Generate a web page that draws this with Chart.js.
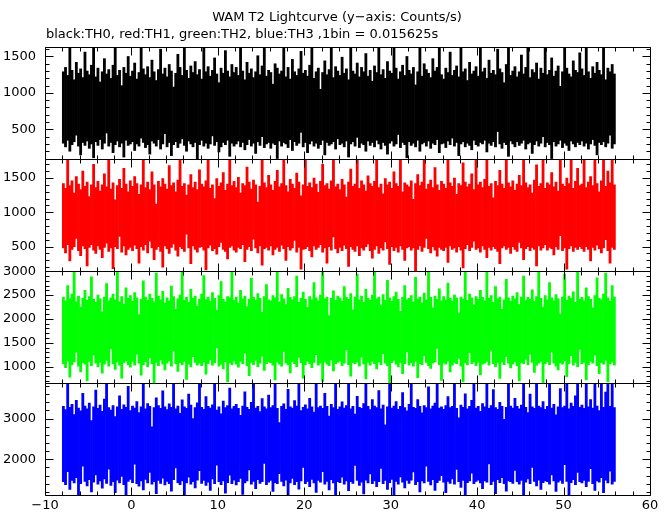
<!DOCTYPE html>
<html>
<head>
<meta charset="utf-8">
<script src="https://cdn.jsdelivr.net/npm/chart.js@4"></script>
<style>
  body { margin: 0; background: #fff; }
  canvas { display: block; }
</style>
</head>
<body>
<canvas id="lc" width="672" height="515"></canvas>
<script>
// min / max count rate per 0.25 s bin (bins start at t = -8 s)
let title = "WAM T2 Lightcurve (y\u2212axis: Counts/s)";
let subtitle = "black:TH0, red:TH1, green:TH2, blue:TH3 ,1bin = 0.015625s";
let tStart = -8;
let binWidth = 0.25;
let bands = ["TH0", "TH1", "TH2", "TH3"];
let colors = ["#000000", "#ff0000", "#00ff00", "#0000ff"];

let th0Hi = [
  1290, 1350, 1240, 1630, 1310, 1180, 1420, 1270, 1330, 1210, 1560, 1300, 1250, 1380, 1630, 1220,
  1340, 1150, 1290, 1470, 1260, 1320, 1200, 1380, 1630, 1240, 1310, 1100, 1350, 1270, 1500, 1230,
  1300, 1410, 1190, 1280, 1630, 1330, 1250, 1360, 1210, 1450, 1290, 1170, 1320, 1600, 1260, 1340,
  1220, 1390, 1300, 1080, 1270, 1530, 1350, 1240, 1630, 1310, 1200, 1370, 1280, 1430, 1250, 1320,
  1190, 1630, 1290, 1360, 1230, 1310, 1480, 1260, 1140, 1340, 1270, 1580, 1300, 1220, 1390, 1280,
  1350, 1240, 1630, 1300, 1180, 1420, 1270, 1330, 1210, 1290, 1510, 1250, 1370, 1630, 1230, 1310,
  1280, 1120, 1400, 1340, 1260, 1300, 1630, 1220, 1350, 1190, 1460, 1290, 1240, 1330, 1570, 1270,
  1310, 1230, 1380, 1630, 1200, 1290, 1340, 1050, 1280, 1440, 1250, 1320, 1630, 1210, 1360, 1300,
  1240, 1490, 1270, 1330, 1180, 1630, 1300, 1260, 1410, 1220, 1350, 1290, 1540, 1230, 1310, 1160,
  1370, 1280, 1630, 1250, 1320, 1200, 1430, 1300, 1270, 1630, 1340, 1190, 1290, 1380, 1240, 1500,
  1310, 1260, 1350, 1110, 1290, 1630, 1230, 1400, 1320, 1270, 1210, 1470, 1300, 1350, 1630, 1250,
  1190, 1340, 1280, 1560, 1240, 1310, 1370, 1220, 1630, 1290, 1330, 1170, 1420, 1260, 1300, 1360,
  1230, 1630, 1290, 1340, 1200, 1450, 1270, 1310, 1250, 1600, 1330, 1280, 1140, 1390, 1630, 1240,
  1300, 1360, 1220, 1290, 1520, 1260, 1350, 1630, 1210, 1320, 1280, 1410, 1190, 1340, 1270, 1630,
  1250, 1310, 1480, 1230, 1300, 1370, 1090, 1290, 1630, 1340, 1260, 1220, 1440, 1310, 1280, 1550,
  1330, 1240, 1630, 1290, 1200, 1360, 1270, 1420, 1310, 1250, 1630, 1180, 1340, 1290, 1390, 1260
];
let th0Lo = [
  310, 260, 350, 200, 290, 330, 420, 270, 150, 320, 280, 340, 240, 300, 110, 330,
  280, 360, 230, 310, 450, 270, 320, 180, 290, 340, 260, 310, 120, 350, 280, 300,
  330, 210, 300, 270, 380, 320, 250, 290, 160, 340, 310, 270, 360, 230, 300, 440,
  260, 320, 140, 290, 330, 250, 310, 370, 280, 200, 340, 300, 260, 320, 92, 290,
  350, 270, 310, 240, 300, 410, 280, 330, 190, 260, 320, 290, 350, 130, 310, 270,
  300, 340, 260, 320, 220, 290, 360, 270, 310, 170, 330, 280, 400, 250, 300, 320,
  240, 310, 290, 100, 340, 270, 320, 300, 250, 360, 210, 330, 280, 310, 460, 260,
  320, 180, 300, 340, 270, 310, 240, 290, 350, 150, 320, 280, 300, 330, 230, 370,
  290, 310, 260, 340, 120, 300, 330, 270, 390, 250, 310, 290, 200, 340, 280, 320,
  260, 350, 300, 230, 320, 280, 160, 310, 340, 270, 300, 430, 250, 320, 290, 110,
  330, 280, 310, 260, 350, 200, 300, 320, 270, 340, 240, 310, 290, 360, 180, 300,
  310, 250, 340, 290, 380, 270, 320, 140, 300, 330, 260, 310, 280, 220, 350, 290,
  270, 320, 300, 350, 190, 310, 280, 330, 260, 470, 300, 240, 320, 290, 130, 340,
  300, 260, 330, 280, 310, 350, 230, 300, 320, 170, 290, 340, 270, 310, 400, 260,
  320, 290, 100, 330, 270, 300, 350, 250, 310, 280, 210, 340, 300, 260, 320, 290,
  340, 270, 310, 230, 300, 360, 280, 150, 320, 290, 330, 260, 310, 420, 240, 300
];

let th1Hi = [
  1420, 1350, 1775, 1390, 1460, 1280, 1520, 1410, 1330, 1600, 1380, 1440, 1230, 1400, 1700, 1360,
  1450, 1310, 1400, 1560, 1370, 1775, 1340, 1430, 1180, 1390, 1480, 1350, 1640, 1410, 1300, 1460,
  1380, 1520, 1420, 1260, 1400, 1775, 1360, 1440, 1330, 1590, 1400, 1120, 1450, 1370, 1490, 1410,
  1340, 1680, 1390, 1430, 1300, 1470, 1775, 1380, 1420, 1250, 1400, 1550, 1360, 1440, 1330, 1620,
  1410, 1370, 1460, 1775, 1350, 1400, 1200, 1490, 1380, 1430, 1580, 1320, 1410, 1775, 1390, 1450,
  1360, 1510, 1280, 1420, 1390, 1660, 1440, 1340, 1470, 1400, 1150, 1380, 1775, 1430, 1360, 1540,
  1400, 1320, 1450, 1610, 1370, 1420, 1775, 1390, 1300, 1480, 1410, 1350, 1570, 1440, 1240, 1400,
  1775, 1380, 1430, 1360, 1500, 1410, 1290, 1450, 1700, 1390, 1420, 1340, 1460, 1775, 1370, 1410,
  1330, 1480, 1400, 1220, 1440, 1630, 1380, 1410, 1775, 1350, 1460, 1400, 1310, 1530, 1420, 1380,
  1450, 1775, 1360, 1410, 1270, 1490, 1400, 1440, 1350, 1590, 1420, 1380, 1775, 1300, 1430, 1400,
  1370, 1460, 1190, 1420, 1550, 1390, 1440, 1775, 1340, 1410, 1470, 1360, 1650, 1400, 1320, 1450,
  1410, 1350, 1775, 1430, 1380, 1500, 1260, 1420, 1390, 1720, 1440, 1370, 1410, 1560, 1330, 1775,
  1400, 1440, 1360, 1480, 1775, 1380, 1420, 1210, 1450, 1390, 1610, 1410, 1350, 1775, 1430, 1370,
  1460, 1320, 1410, 1540, 1390, 1775, 1430, 1360, 1400, 1280, 1470, 1690, 1380, 1420, 1775, 1350,
  1430, 1400, 1580, 1370, 1440, 1310, 1775, 1410, 1380, 1500, 1420, 1775, 1350, 1450, 1640, 1390,
  1410, 1775, 1360, 1440, 1520, 1390, 1775, 1420, 1300, 1460, 1775, 1380, 1600, 1430, 1775, 1400
];
let th1Lo = [
  480, 410, 530, 290, 460, 500, 620, 440, 370, 510, 470, 220, 490, 530, 450, 400,
  510, 460, 340, 490, 550, 430, 480, 180, 500, 470, 650, 420, 510, 380, 460, 490,
  440, 520, 470, 260, 500, 450, 530, 410, 580, 480, 310, 460, 500, 430, 200, 510,
  470, 400, 490, 540, 450, 360, 500, 470, 430, 680, 480, 250, 510, 460, 420, 490,
  500, 450, 160, 480, 520, 440, 470, 390, 500, 560, 460, 430, 320, 490, 510, 450,
  420, 490, 470, 530, 280, 460, 500, 440, 610, 480, 410, 510, 230, 470, 490, 450,
  510, 380, 460, 490, 430, 520, 470, 300, 500, 450, 480, 590, 420, 490, 170, 460,
  470, 500, 440, 350, 510, 460, 490, 530, 420, 480, 260, 500, 450, 640, 470, 410,
  490, 440, 520, 470, 210, 500, 460, 430, 510, 370, 480, 450, 500, 540, 440, 330,
  460, 510, 400, 480, 450, 570, 470, 240, 500, 440, 490, 420, 510, 460, 300, 480,
  500, 450, 480, 142, 460, 510, 430, 490, 620, 470, 410, 500, 450, 360, 490, 460,
  440, 490, 270, 510, 460, 480, 420, 500, 450, 190, 470, 530, 440, 490, 580, 460,
  480, 420, 510, 460, 340, 490, 450, 500, 470, 430, 250, 480, 510, 460, 490, 400,
  500, 460, 430, 560, 480, 310, 470, 500, 440, 490, 460, 220, 510, 450, 480, 530,
  450, 490, 470, 380, 500, 460, 660, 440, 480, 170, 470, 510, 430, 490, 460, 500,
  470, 430, 500, 460, 290, 490, 450, 520, 470, 410, 480, 600, 440, 260, 490, 460
];

let th2Hi = [
  2450, 2380, 2700, 2420, 2520, 3000, 2360, 2480, 2250, 2430, 2600, 2390, 2470, 2880, 2410, 2350,
  2500, 2420, 2150, 2460, 2740, 2380, 2440, 2520, 2400, 3000, 2360, 2470, 2310, 2650, 2430, 2490,
  2370, 2550, 2440, 2090, 2410, 2800, 2460, 2390, 2520, 2430, 2360, 2960, 2480, 2400, 2580, 2330,
  2440, 2380, 2690, 2470, 2200, 2420, 2500, 3000, 2390, 2450, 2350, 2620, 2430, 2480, 2270, 2410,
  2520, 2910, 2400, 2460, 2370, 2550, 2430, 2180, 2490, 2780, 2410, 2360, 2470, 2440, 3000, 2390,
  2450, 2330, 2600, 2420, 2480, 2260, 2410, 2850, 2460, 2390, 2530, 2430, 2140, 2470, 2720, 2400,
  2380, 2490, 2440, 3000, 2360, 2510, 2420, 2300, 2640, 2450, 2400, 2470, 2900, 2350, 2430, 2560,
  2410, 2240, 2470, 2400, 2760, 2440, 2380, 2500, 3000, 2420, 2460, 2070, 2430, 2590, 2390, 2480,
  2440, 2370, 2680, 2450, 2410, 2530, 2190, 2460, 2940, 2400, 2480, 2350, 2620, 2430, 2390, 2500,
  3000, 2420, 2460, 2280, 2510, 2390, 2810, 2440, 2370, 2470, 2560, 2410, 2160, 2450, 2700, 2400,
  2430, 2490, 2360, 2870, 2420, 2460, 2330, 2540, 2400, 3000, 2450, 2230, 2480, 2410, 2630, 2380,
  2470, 2400, 2750, 2430, 2370, 2500, 2440, 2120, 2460, 2410, 2980, 2390, 2520, 2440, 2290, 2470,
  2410, 2600, 2450, 2380, 3000, 2430, 2490, 2350, 2680, 2420, 2460, 2200, 2400, 2830, 2440, 2370,
  2480, 2420, 2550, 2300, 2460, 2900, 2390, 2450, 2410, 2610, 2370, 2470, 3000, 2430, 2250, 2490,
  2400, 2760, 2440, 2380, 2510, 2420, 2100, 2460, 2940, 2390, 2480, 2430, 2570, 2350, 3000, 2410,
  2450, 2380, 2650, 2470, 2410, 2230, 2490, 2860, 2430, 2400, 2520, 2960, 2440, 2370, 2700, 2460
];
let th2Lo = [
  1060, 980, 1120, 780, 1040, 1100, 1300, 1010, 890, 1080, 1050, 700, 1110, 1020, 1240, 1070,
  1000, 1090, 860, 1050, 1130, 1010, 1370, 1060, 940, 1100, 1030, 760, 1080, 1120, 1040, 990,
  1110, 1030, 1260, 1070, 820, 1040, 1100, 1000, 1180, 1060, 650, 1090, 1020, 1140, 1050, 930,
  1070, 1120, 1010, 1330, 1060, 900, 1080, 1040, 1110, 730, 1050, 1000, 1210, 1090, 1030, 1070,
  1020, 1100, 840, 1060, 1140, 1030, 1080, 1390, 1010, 1050, 950, 1100, 680, 1070, 1040, 1120,
  1050, 990, 1110, 1060, 1280, 1020, 810, 1090, 1040, 1130, 1000, 1070, 1220, 920, 1060, 1100,
  1080, 1030, 720, 1100, 1050, 1010, 1320, 1070, 1040, 870, 1110, 1060, 1000, 1190, 1080, 760,
  1040, 1110, 1060, 980, 1090, 1250, 1030, 1070, 690, 1100, 1050, 1020, 1140, 910, 1060, 1090,
  1120, 1020, 1070, 1350, 1040, 800, 1080, 1060, 1100, 1010, 1200, 1050, 740, 1090, 1030, 1110,
  1060, 950, 1100, 1040, 1270, 1070, 1020, 660, 1080, 1130, 1050, 1000, 1090, 850, 1060, 1310,
  1030, 1080, 1010, 1110, 770, 1060, 1040, 1230, 1090, 1020, 960, 1070, 1100, 1380, 1040, 710,
  1070, 1050, 1120, 890, 1030, 1090, 1060, 1170, 1010, 680, 1080, 1040, 1290, 1060, 1100, 1020,
  1090, 830, 1050, 1070, 1110, 1030, 1340, 1060, 1000, 1080, 750, 1100, 1040, 1210, 1070, 970,
  1050, 1100, 1020, 700, 1080, 1060, 1150, 1040, 1260, 1090, 880, 1030, 1070, 1110, 650, 1060,
  1100, 1040, 1300, 1070, 1010, 930, 1080, 1050, 1120, 790, 1060, 1230, 1030, 1090, 1000, 1360,
  1060, 1090, 720, 1040, 1110, 1070, 1240, 1020, 850, 1080, 1050, 1130, 680, 1060, 1100, 1030
];

let th3Hi = [
  3300, 3220, 3867, 3280, 3350, 3100, 3450, 3260, 3190, 3620, 3310, 3240, 3380, 2950, 3290, 3700,
  3250, 3330, 3180, 3480, 3867, 3270, 3210, 3320, 3050, 3290, 3560, 3230, 3340, 3280, 3790, 3200,
  3310, 3260, 3420, 3150, 3290, 3867, 3240, 3370, 3300, 2800, 3270, 3510, 3320, 3250, 3680, 3290,
  3220, 3360, 3280, 3867, 3240, 3310, 3130, 3460, 3290, 3250, 3600, 3330, 3000, 3270, 3390, 3867,
  3280, 3230, 3540, 3300, 3260, 3340, 3867, 3210, 3290, 3120, 3430, 3270, 3320, 3750, 3240, 3300,
  3350, 3250, 3080, 3310, 3660, 3280, 3230, 3400, 3867, 3260, 3300, 3170, 3490, 3290, 3240, 3580,
  3270, 3320, 3867, 3250, 2900, 3300, 3360, 3230, 3720, 3290, 3260, 3440, 3310, 3867, 3200, 3280,
  3340, 3240, 3500, 3290, 3160, 3867, 3270, 3310, 3250, 3620, 3300, 3060, 3350, 3270, 3867, 3230,
  3290, 3410, 3260, 3320, 3867, 3240, 3300, 3110, 3550, 3280, 3250, 3370, 3867, 3300, 3220, 3470,
  3310, 3270, 3690, 3240, 3330, 2850, 3290, 3867, 3260, 3310, 3420, 3230, 3300, 3640, 3270, 3190,
  3350, 3867, 3280, 3250, 3470, 3300, 3140, 3320, 3270, 3780, 3240, 3310, 3380, 3867, 3260, 3290,
  3230, 3320, 3540, 3270, 3300, 3867, 3250, 3020, 3330, 3280, 3610, 3240, 3300, 3450, 3867, 3260,
  3300, 3180, 3370, 3290, 3867, 3250, 3320, 3710, 3270, 3230, 3400, 3300, 2980, 3280, 3867, 3310,
  3260, 3500, 3300, 3240, 3330, 3867, 3280, 3150, 3600, 3290, 3250, 3867, 3310, 3270, 3420, 3230,
  3300, 3867, 3260, 3350, 3090, 3290, 3740, 3270, 3310, 3867, 3240, 3380, 3300, 3560, 3867, 3280,
  3330, 3250, 3867, 3290, 3470, 3260, 3867, 3310, 3200, 3867, 3280, 3650, 3867, 3300, 3867, 3270
];
let th3Lo = [
  1450, 1380, 1700, 1260, 1480, 1420, 1550, 1115, 1400, 1830, 1460, 1350, 1500, 1200, 1440, 1620,
  1390, 1470, 1290, 1520, 1410, 1760, 1360, 1450, 1180, 1490, 1420, 1580, 1380, 1115, 1460, 1510,
  1430, 1880, 1400, 1340, 1470, 1250, 1510, 1420, 1680, 1390, 1450, 1160, 1480, 1410, 1540, 1370,
  1460, 1400, 1220, 1500, 1790, 1430, 1380, 1470, 1115, 1420, 1560, 1390, 1450, 1300, 1490, 1720,
  1410, 1480, 1360, 1440, 1240, 1520, 1400, 1860, 1450, 1380, 1470, 1170, 1430, 1610, 1400, 1490,
  1370, 1450, 1530, 1140, 1420, 1470, 1740, 1390, 1460, 1280, 1500, 1410, 1450, 1900, 1380, 1440,
  1480, 1210, 1430, 1400, 1650, 1460, 1350, 1490, 1115, 1420, 1530, 1380, 1450, 1270, 1470, 1800,
  1400, 1460, 1330, 1510, 1420, 1190, 1480, 1440, 1700, 1390, 1460, 1250, 1500, 1420, 1115, 1450,
  1430, 1560, 1390, 1470, 1230, 1450, 1410, 1850, 1480, 1360, 1440, 1150, 1490, 1420, 1640, 1400,
  1470, 1330, 1450, 1780, 1400, 1480, 1260, 1430, 1510, 1115, 1460, 1390, 1570, 1440, 1300, 1480,
  1410, 1490, 1690, 1380, 1450, 1200, 1470, 1420, 1830, 1460, 1370, 1500, 1240, 1430, 1480, 1600,
  1440, 1180, 1460, 1410, 1520, 1390, 1750, 1450, 1310, 1480, 1115, 1430, 1470, 1660, 1400, 1460,
  1490, 1420, 1280, 1470, 1440, 1890, 1380, 1460, 1160, 1500, 1430, 1550, 1400, 1220, 1470, 1450,
  1410, 1730, 1450, 1390, 1480, 1130, 1440, 1520, 1400, 1800, 1460, 1350, 1490, 1260, 1430, 1470,
  1450, 1390, 1620, 1470, 1210, 1440, 1480, 1410, 1870, 1460, 1115, 1430, 1500, 1380, 1680, 1450,
  1420, 1480, 1330, 1460, 1770, 1400, 1240, 1470, 1440, 1550, 1180, 1490, 1420, 1710, 1390, 1460
];

// axis ranges and labelled ticks of the four panels (top to bottom)
let yMin = [92, 142, 650, 1115];
let yMax = [1630, 1775, 3000, 3867];
let yTicks = [
  [500, 1000, 1500],
  [500, 1000, 1500],
  [1000, 1500, 2000, 2500, 3000],
  [2000, 3000],
];
let yMinorStep = [100, 100, 100, 200];
let xMin = -10;
let xMax = 60;
let xTicks = [-10, 0, 10, 20, 30, 40, 50, 60];
let xMinorStep = 2;

let his = [th0Hi, th1Hi, th2Hi, th3Hi];
let los = [th0Lo, th1Lo, th2Lo, th3Lo];

function toBins(lo, hi) {
  let out = [];
  for (let i = 0; i < hi.length; i++) {
    out.push({ x: tStart + binWidth * (i + 0.5), y: [lo[i], hi[i]] });
  }
  return out;
}

let font = { family: "DejaVu Sans", size: 13 };

let datasets = bands.map((b, i) => ({
  label: b,
  data: toBins(los[i], his[i]),
  backgroundColor: colors[i],
  borderWidth: 0,
  yAxisID: "y" + i,
  barPercentage: 1,
  categoryPercentage: 1,
  grouped: false,
}));

let scales = {
  x: {
    type: "linear",
    min: xMin,
    max: xMax,
    offset: false,
    grid: { display: false, drawTicks: false },
    border: { display: false },
    afterBuildTicks: (s) => {
      s.ticks = xTicks.map((v) => ({ value: v }));
    },
    ticks: {
      padding: 2,
      color: "#000",
      font: font,
      maxRotation: 0,
      autoSkip: false,
      callback: (v) => String(v).replace("-", "\u2212"),
    },
  },
};
// stacked axes are laid out bottom-up, so add the bottom panel first
for (let i = bands.length - 1; i >= 0; i--) {
  scales["y" + i] = {
    type: "linear",
    position: "left",
    stack: "lc",
    stackWeight: 1,
    min: yMin[i],
    max: yMax[i],
    beginAtZero: false,
    grid: { display: false, drawTicks: false },
    border: { display: false },
    afterBuildTicks: (s) => {
      s.ticks = yTicks[i].map((v) => ({ value: v }));
    },
    ticks: {
      autoSkip: false,
      padding: 9,
      color: "#000",
      font: font,
      callback: (v) => String(v),
    },
    afterFit: (s) => {
      s.width = 45;
    },
  };
}

// boxes round each panel with inward tick marks on every side, plus the two title lines
let framePlugin = {
  id: "frames",
  afterDatasetsDraw(chart) {
    let ctx = chart.ctx;
    let ca = chart.chartArea;
    let xs = chart.scales.x;
    let L = Math.round(ca.left) + 0.5;
    let R = Math.round(ca.right) + 0.5;
    ctx.save();
    ctx.strokeStyle = "#000";
    ctx.lineWidth = 1;
    ctx.beginPath();
    bands.forEach((b, i) => {
      let s = chart.scales["y" + i];
      let T = Math.round(s.top) + 0.5;
      let B = Math.round(s.bottom) + 0.5;
      ctx.rect(L, T, R - L, B - T);
      for (let v = xMin; v <= xMax; v += xMinorStep) {
        let px = Math.round(xs.getPixelForValue(v)) + 0.5;
        let len = xTicks.includes(v) ? 8 : 4;
        ctx.moveTo(px, T);
        ctx.lineTo(px, T + len);
        ctx.moveTo(px, B);
        ctx.lineTo(px, B - len);
      }
      let minor = yMinorStep[i];
      for (let v = Math.ceil(s.min / minor) * minor; v <= s.max; v += minor) {
        let py = Math.round(s.getPixelForValue(v)) + 0.5;
        let len = yTicks[i].includes(v) ? 8 : 4;
        ctx.moveTo(L, py);
        ctx.lineTo(L + len, py);
        ctx.moveTo(R, py);
        ctx.lineTo(R - len, py);
      }
    });
    ctx.stroke();

    ctx.fillStyle = "#000";
    ctx.font = font.size + "px '" + font.family + "'";
    ctx.textBaseline = "alphabetic";
    ctx.textAlign = "center";
    ctx.fillText(title, chart.width / 2 + 1, 21);
    ctx.textAlign = "left";
    ctx.fillText(subtitle, ca.left + 1, 38);
    ctx.restore();
  },
};

let chart = new Chart(document.getElementById("lc").getContext("2d"), {
  type: "bar",
  data: { datasets: datasets },
  options: {
    responsive: false,
    animation: false,
    devicePixelRatio: 1,
    layout: { padding: { top: 47, right: 22, bottom: 0, left: 0 } },
    plugins: {
      legend: { display: false },
      tooltip: { enabled: false },
    },
    scales: scales,
  },
  plugins: [framePlugin],
});
</script>
</body>
</html>
